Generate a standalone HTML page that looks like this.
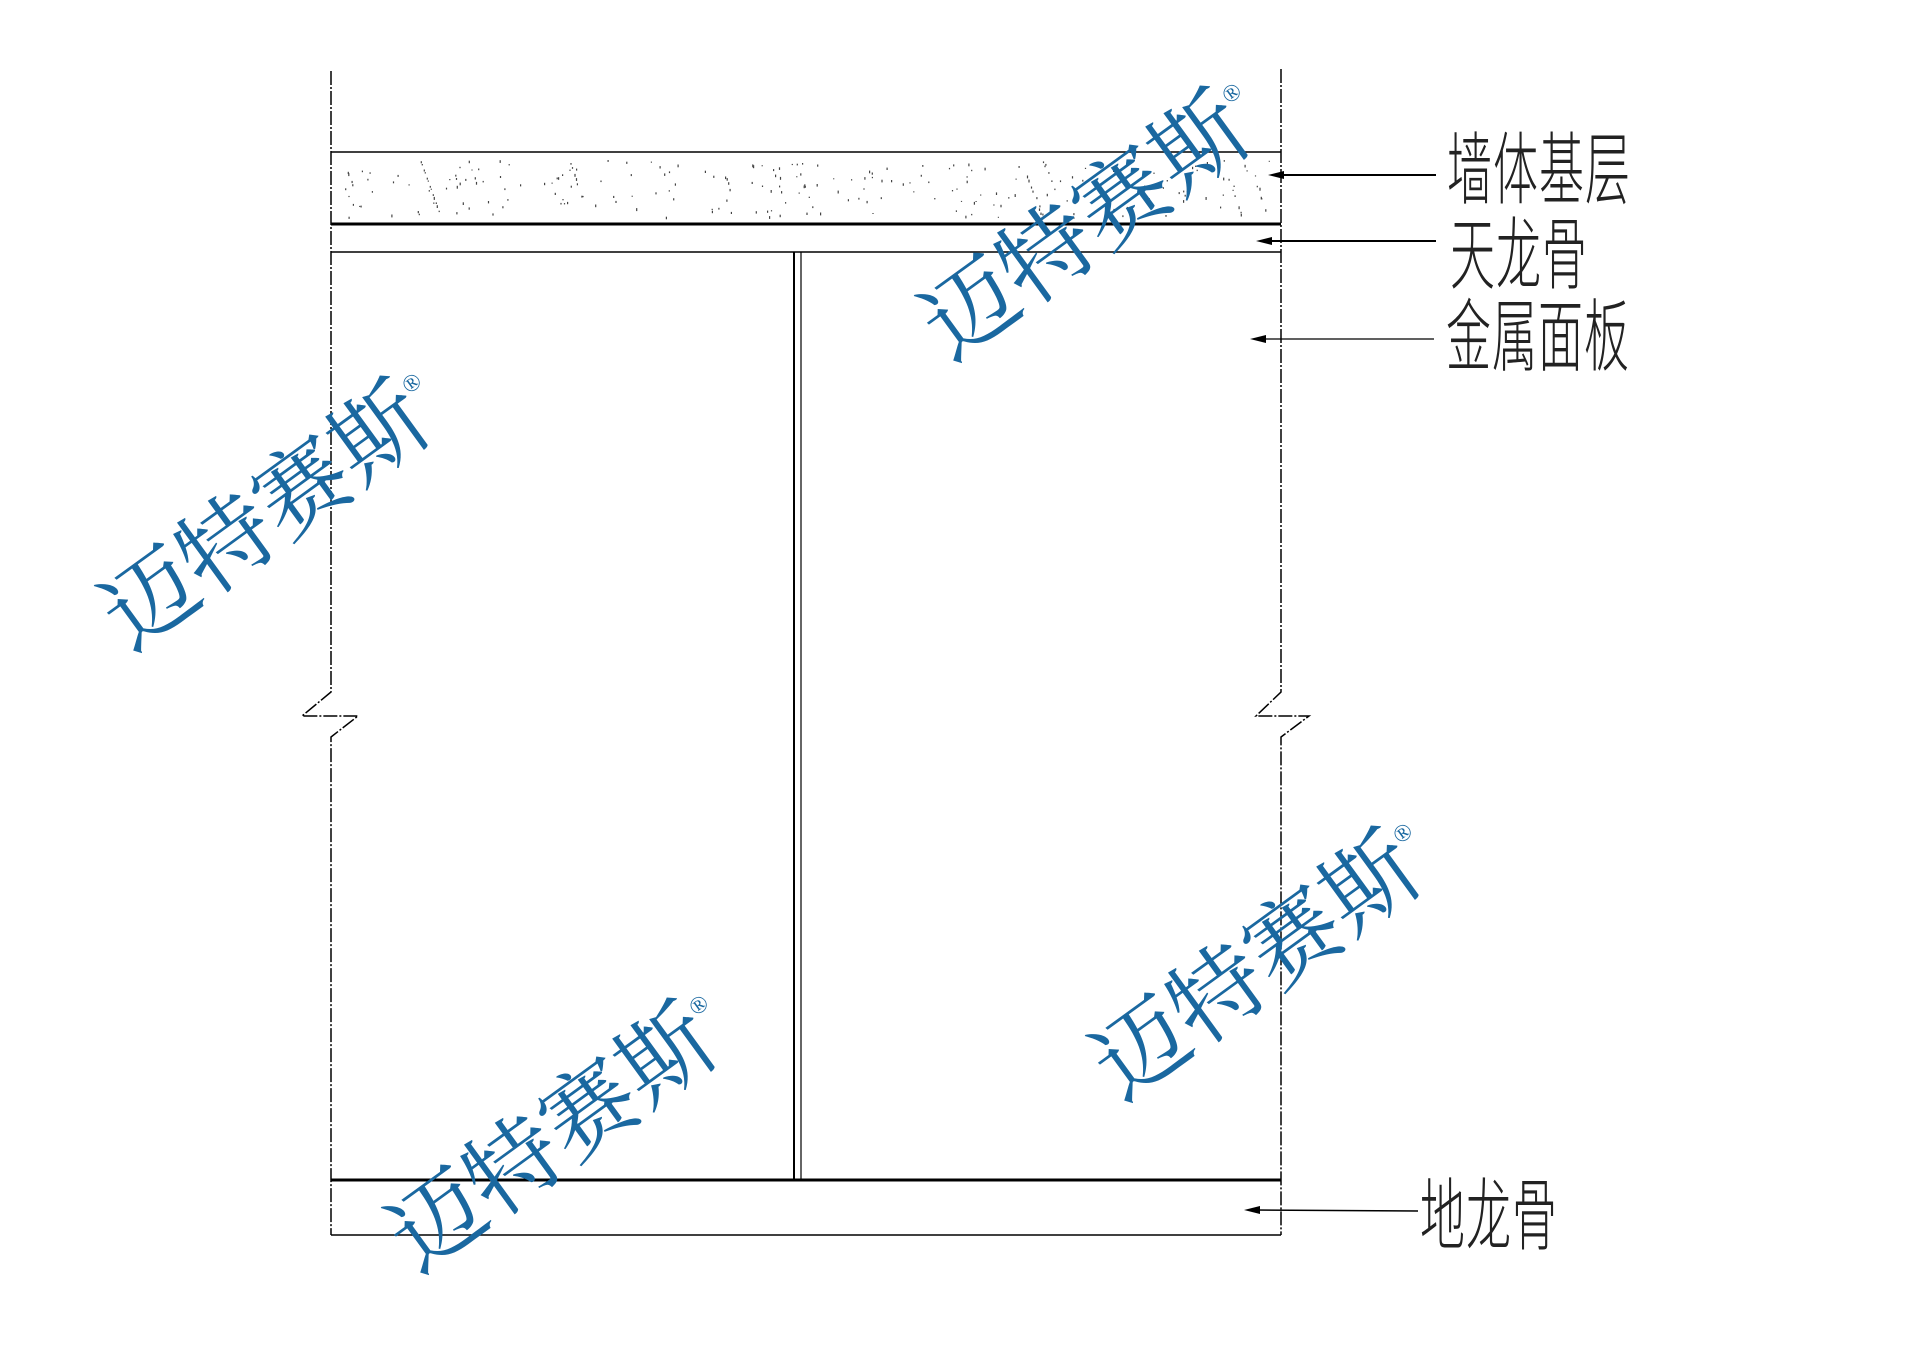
<!DOCTYPE html>
<html><head><meta charset="utf-8"><style>
html,body{margin:0;padding:0;background:#fff;}
body{width:1920px;height:1356px;position:relative;overflow:hidden;}
svg{position:absolute;left:0;top:0;}
.lbl{position:absolute;font-family:"Liberation Sans","Noto Sans CJK SC",sans-serif;font-weight:300;font-size:45px;line-height:45px;color:#222;transform-origin:0 0;transform:scaleY(1.75);letter-spacing:1px;white-space:nowrap;}
.wm{position:absolute;font-family:"Liberation Serif","Noto Serif CJK SC",serif;font-size:94px;line-height:94px;color:#1a68a0;white-space:nowrap;transform:translate(-50%,-50%) rotate(-36deg);}
.wm sup{font-size:24px;vertical-align:top;position:relative;top:-22px;}
</style></head><body>
<svg width="1920" height="1356" viewBox="0 0 1920 1356">
<g stroke="#000" fill="none">
<path d="M331 71 V692 L302 716 L358 716 L331 737 V1235" stroke-width="1.5" stroke-dasharray="14 2 2 2"/>
<path d="M1281 69 V692 L1256 716 L1309 716 L1281 737 V1235" stroke-width="1.5" stroke-dasharray="14 2 2 2"/>
<line x1="331" y1="152" x2="1281" y2="152" stroke-width="1.5"/>
<line x1="331" y1="224" x2="1281" y2="224" stroke-width="3"/>
<line x1="331" y1="252" x2="1281" y2="252" stroke-width="1.5"/>
<line x1="794" y1="252" x2="794" y2="1180" stroke-width="2"/>
<line x1="801" y1="252" x2="801" y2="1180" stroke-width="1.2"/>
<line x1="331" y1="1180" x2="1281" y2="1180" stroke-width="3"/>
<line x1="331" y1="1235" x2="1281" y2="1235" stroke-width="1.5"/>
<line x1="1436" y1="175" x2="1278" y2="175" stroke-width="2"/>
<line x1="1436" y1="241" x2="1268" y2="241" stroke-width="2"/>
<line x1="1434" y1="339" x2="1262" y2="339" stroke-width="1.2"/>
<line x1="1418" y1="1211" x2="1256" y2="1210" stroke-width="1.5"/>
</g>
<g fill="#000">
<polygon points="1268,175 1284,171 1284,179"/>
<polygon points="1256,241 1272,237 1272,245"/>
<polygon points="1250,339 1266,335 1266,343"/>
<polygon points="1244,1210 1260,1206 1260,1214"/>
</g>
<g fill="#444" id="dots"></g>
</svg>
<div class="lbl" style="left:1447px;top:131px;">墙体基层</div>
<div class="lbl" style="left:1450px;top:216px;">天龙骨</div>
<div class="lbl" style="left:1446px;top:298px;">金属面板</div>
<div class="lbl" style="left:1420px;top:1177px;">地龙骨</div>
<div class="wm" style="left:273px;top:512px;">迈特赛斯<sup>®</sup></div>
<div class="wm" style="left:1093px;top:222px;">迈特赛斯<sup>®</sup></div>
<div class="wm" style="left:560px;top:1134px;">迈特赛斯<sup>®</sup></div>
<div class="wm" style="left:1264px;top:962px;">迈特赛斯<sup>®</sup></div>
<script>
var g=document.getElementById('dots'),s=7,h='';
function r(){s=(s*9301+49297)%233280;return s/233280;}
for(var i=0;i<260;i++){var x=345+r()*925,y=160+r()*58;h+='<rect x="'+x.toFixed(1)+'" y="'+y.toFixed(1)+'" width="1.2" height="'+(1+r()*2).toFixed(1)+'"/>';}
g.innerHTML=h;
</script>
</body></html>
